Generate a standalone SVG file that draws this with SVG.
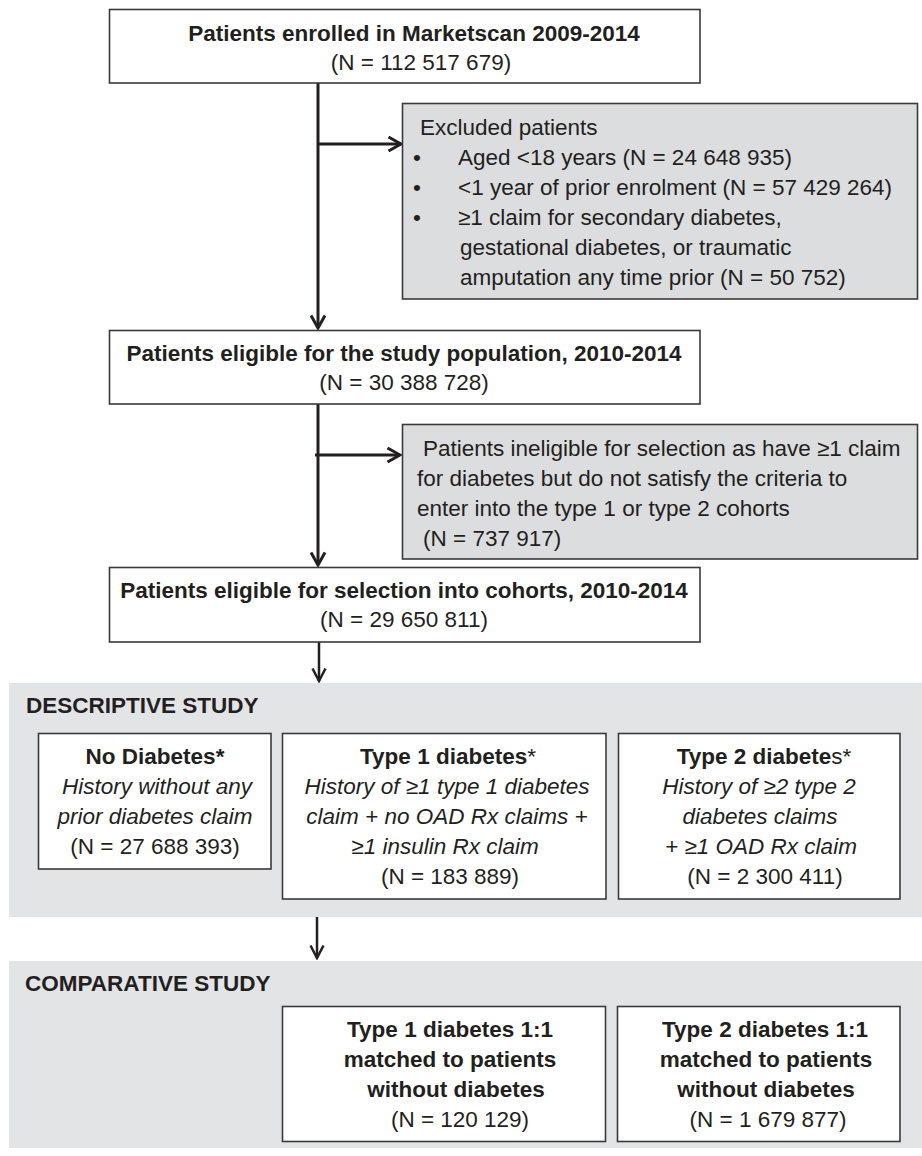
<svg xmlns="http://www.w3.org/2000/svg" width="922" height="1156" viewBox="0 0 922 1156">
<style>
text{font-family:"Liberation Sans",Arial,Helvetica,sans-serif;font-size:22.5px;fill:#231f20}
.b{font-weight:bold}
.i{font-style:italic}
.r{font-weight:normal}
.m{text-anchor:middle}
.box{fill:#ffffff;stroke:#3a3a3a;stroke-width:1.6}
.gbox{fill:#dcdddf;stroke:#3a3a3a;stroke-width:1.6}
.band{fill:#e3e4e6}
.conn{fill:none;stroke:#231f20;stroke-width:3}
.conn2{fill:none;stroke:#231f20;stroke-width:2.5}
</style>
<defs>
<marker id="arr" viewBox="0 0 16 16" refX="14" refY="8" markerWidth="16" markerHeight="16" markerUnits="userSpaceOnUse" orient="auto">
<path d="M1.5,1 L14,8 L1.5,15" fill="none" stroke="#231f20" stroke-width="3"/>
</marker>
<marker id="arr2" viewBox="0 0 16 16" refX="14" refY="8" markerWidth="16" markerHeight="16" markerUnits="userSpaceOnUse" orient="auto">
<path d="M1.5,1.5 L14,8 L1.5,14.5" fill="none" stroke="#231f20" stroke-width="2.5"/>
</marker>
</defs>
<rect width="922" height="1156" fill="#ffffff"/>

<g id="band-descriptive">
<rect class="band" x="9" y="683" width="913" height="234"/>
<text class="b" x="26" y="713">DESCRIPTIVE STUDY</text>
</g>
<g id="band-comparative">
<rect class="band" x="9" y="961" width="913" height="187"/>
<text class="b" x="25" y="991">COMPARATIVE STUDY</text>
</g>

<g id="connectors">
<line class="conn" x1="318" y1="83" x2="318" y2="328" marker-end="url(#arr)"/>
<line class="conn" x1="318" y1="144" x2="401" y2="144" marker-end="url(#arr)"/>
<line class="conn" x1="318" y1="404" x2="318" y2="565" marker-end="url(#arr)"/>
<line class="conn" x1="315" y1="455" x2="400" y2="455" marker-end="url(#arr)"/>
<line class="conn2" x1="319" y1="642" x2="319" y2="681" marker-end="url(#arr2)"/>
<line class="conn2" x1="317" y1="917" x2="317" y2="958" marker-end="url(#arr2)"/>
</g>

<g id="n-enrolled">
<rect class="box" x="109.5" y="9.5" width="590.5" height="73.5"/>
<text class="b m" x="414" y="41">Patients enrolled in Marketscan 2009-2014</text>
<text class="m" x="421" y="70">(N = 112 517 679)</text>
</g>

<g id="n-excluded">
<rect class="gbox" x="402.5" y="103.5" width="515" height="195.5"/>
<text x="420" y="135">Excluded patients</text>
<text x="413" y="165">•</text>
<text x="458" y="165">Aged &lt;18 years (N = 24 648 935)</text>
<text x="413" y="195">•</text>
<text x="458" y="195">&lt;1 year of prior enrolment (N = 57 429 264)</text>
<text x="413" y="225">•</text>
<text x="458" y="225">≥1 claim for secondary diabetes,</text>
<text x="460" y="255">gestational diabetes, or traumatic</text>
<text x="460" y="285">amputation any time prior (N = 50 752)</text>
</g>

<g id="n-eligible-study">
<rect class="box" x="109.5" y="330.5" width="590.5" height="73.5"/>
<text class="b m" x="404" y="361">Patients eligible for the study population, 2010-2014</text>
<text class="m" x="404" y="390">(N = 30 388 728)</text>
</g>

<g id="n-ineligible">
<rect class="gbox" x="402.5" y="424.5" width="515" height="134.5"/>
<text x="423" y="456">Patients ineligible for selection as have ≥1 claim</text>
<text x="417" y="486">for diabetes but do not satisfy the criteria to</text>
<text x="417" y="516">enter into the type 1 or type 2 cohorts</text>
<text x="423" y="546">(N = 737 917)</text>
</g>

<g id="n-eligible-cohorts">
<rect class="box" x="109.5" y="567.5" width="590.5" height="74.5"/>
<text class="b m" x="404" y="598">Patients eligible for selection into cohorts, 2010-2014</text>
<text class="m" x="404" y="627">(N = 29 650 811)</text>
</g>

<g id="n-no-diabetes">
<rect class="box" x="38.5" y="733.5" width="232.5" height="135.5"/>
<text class="b m" x="155" y="764">No Diabetes*</text>
<text class="i m" x="157" y="794">History without any</text>
<text class="i m" x="155" y="824">prior diabetes claim</text>
<text class="m" x="155" y="854">(N = 27 688 393)</text>
</g>

<g id="n-type1">
<rect class="box" x="282.5" y="733.5" width="323.5" height="165.5"/>
<text class="m" x="448" y="764"><tspan class="b">Type 1 diabetes</tspan>*</text>
<text class="i m" x="447" y="794">History of ≥1 type 1 diabetes</text>
<text class="i m" x="447" y="824">claim + no OAD Rx claims +</text>
<text class="i m" x="445" y="854">≥1 insulin Rx claim</text>
<text class="m" x="450" y="884">(N = 183 889)</text>
</g>

<g id="n-type2">
<rect class="box" x="618.5" y="733.5" width="281.5" height="165.5"/>
<text class="m" x="764" y="764"><tspan class="b">Type 2 diabete</tspan>s*</text>
<text class="i m" x="759" y="794">History of ≥2 type 2</text>
<text class="i m" x="760" y="824">diabetes claims</text>
<text class="i m" x="761" y="854">+ ≥1 OAD Rx claim</text>
<text class="m" x="765" y="884">(N = 2 300 411)</text>
</g>

<g id="n-type1-matched">
<rect class="box" x="282.5" y="1006.5" width="323" height="135"/>
<text class="b m" x="450" y="1037">Type 1 diabetes 1:1</text>
<text class="b m" x="450" y="1067">matched to patients</text>
<text class="b m" x="456" y="1097">without diabetes</text>
<text class="m" x="460" y="1127">(N = 120 129)</text>
</g>

<g id="n-type2-matched">
<rect class="box" x="617.5" y="1006.5" width="282.5" height="135"/>
<text class="b m" x="765" y="1037">Type 2 diabetes 1:1</text>
<text class="b m" x="766" y="1067">matched to patients</text>
<text class="b m" x="766" y="1097">without diabetes</text>
<text class="m" x="768" y="1127">(N = 1 679 877)</text>
</g>
</svg>
